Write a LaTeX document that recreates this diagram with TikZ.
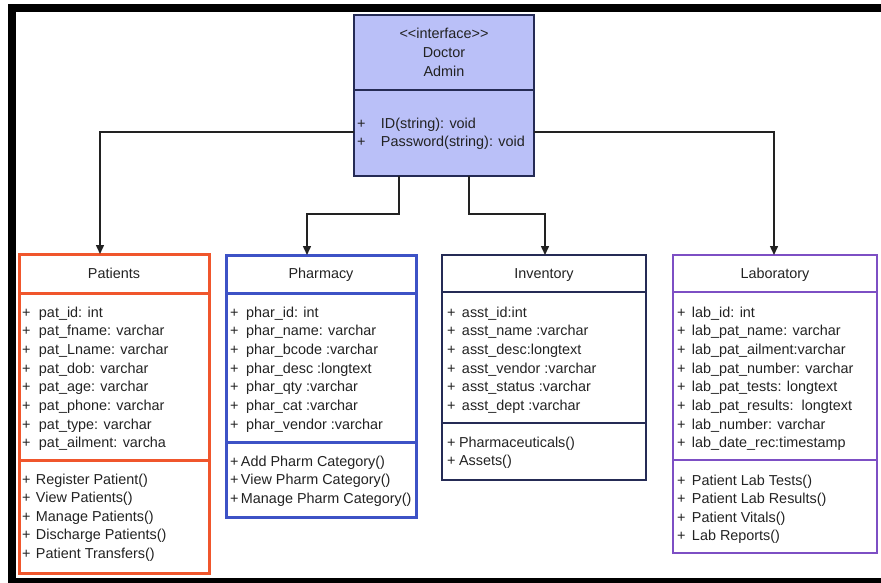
\documentclass[tikz,border=0pt]{standalone}
\usepackage{fontspec}
\setmainfont{Liberation Sans}
\usetikzlibrary{arrows.meta}

\definecolor{patred}{HTML}{F0562C}
\definecolor{pharblue}{HTML}{3D52C6}
\definecolor{invnavy}{HTML}{252B55}
\definecolor{labpurple}{HTML}{7D4FC4}
\definecolor{ifill}{HTML}{BAC0F8}
\definecolor{inkgray}{HTML}{222222}

% "+" marker followed by a fixed gap before the member name
\newcommand\memb[2]{\makebox[#1][l]{+}#2}

\begin{document}
\begin{tikzpicture}[x=1pt,y=-1pt,
  classbox/.style={draw, rectangle, inner sep=0pt, outer sep=0pt, anchor=north west},
  rowtxt/.style={anchor=base west, inner sep=0pt, outer sep=0pt,
                 font=\fontsize{14.4}{17}\selectfont, text=inkgray},
  headtxt/.style={rowtxt, anchor=base},
  link/.style={draw=inkgray, line width=1.5pt,
               -{Triangle[length=9pt,width=8pt]}}]

\useasboundingbox (0,0) rectangle (881,583);

% outer black frame
\fill[black] (8,4) rectangle (881,12);
\fill[black] (8,4) rectangle (16,583);
\fill[black] (8,578) rectangle (881,583);

% ---------- interface: Doctor / Admin ----------
\node[classbox, draw=invnavy, fill=ifill, line width=2pt,
      minimum width=180pt, minimum height=161pt] (admin) at (354,15) {};
\draw[invnavy, line width=2pt] (admin.west |- 0,90) -- (admin.east |- 0,90);
\node[headtxt] (ah1) at (444,39) {<\kern0pt<interface>\kern0pt>};
\node[headtxt] (ah2) at (444,58) {Doctor};
\node[headtxt] (ah3) at (444,77) {Admin};
\node[rowtxt] (am1) at (357,129) {\memb{24pt}{ID(string): void}};
\node[rowtxt] (am2) at (357,147) {\memb{24pt}{Password(string): void}};

% ---------- Patients ----------
\node[classbox, draw=patred, line width=3pt,
      minimum width=190pt, minimum height=319pt] (pat) at (19,254) {};
\draw[patred, line width=3pt] (pat.west |- 0,293) -- (pat.east |- 0,293);
\draw[patred, line width=3pt] (pat.west |- 0,460) -- (pat.east |- 0,460);
\node[headtxt] (path) at (114,278) {Patients};
\foreach \t [count=\i] in {pat\_id: int, pat\_fname: varchar, pat\_Lname: varchar,
    pat\_dob: varchar, pat\_age: varchar, pat\_phone: varchar,
    pat\_type: varchar, pat\_ailment: varcha}
  \node[rowtxt] (pa\i) at (22,{317+18.7*(\i-1)}) {\memb{17pt}{\t}};
\foreach \t [count=\i] in {Register Patient(), View Patients(), Manage Patients(),
    Discharge Patients(), Patient Transfers()}
  \node[rowtxt] (pm\i) at (22,{484+18.6*(\i-1)}) {\memb{14pt}{\t}};

% ---------- Pharmacy ----------
\node[classbox, draw=pharblue, line width=3pt,
      minimum width=190pt, minimum height=262pt] (phar) at (226,255) {};
\draw[pharblue, line width=3pt] (phar.west |- 0,293) -- (phar.east |- 0,293);
\draw[pharblue, line width=3pt] (phar.west |- 0,442) -- (phar.east |- 0,442);
\node[headtxt] (phh) at (321,278) {Pharmacy};
\foreach \t [count=\i] in {phar\_id: int, phar\_name: varchar, phar\_bcode :varchar,
    phar\_desc :longtext, phar\_qty :varchar, phar\_cat :varchar, phar\_vendor :varchar}
  \node[rowtxt] (pha\i) at (230,{317+18.7*(\i-1)}) {\memb{16pt}{\t}};
\foreach \t [count=\i] in {Add Pharm Category(), View Pharm Category(),
    Manage Pharm Category()}
  \node[rowtxt] (phm\i) at (230,{466+18.6*(\i-1)}) {\memb{11pt}{\t}};

% ---------- Inventory ----------
\node[classbox, draw=invnavy, line width=2pt,
      minimum width=204pt, minimum height=225pt] (inv) at (442,255) {};
\draw[invnavy, line width=2pt] (inv.west |- 0,292) -- (inv.east |- 0,292);
\draw[invnavy, line width=2pt] (inv.west |- 0,423) -- (inv.east |- 0,423);
\node[headtxt] (invh) at (544,278) {Inventory};
\foreach \t [count=\i] in {asst\_id:int, asst\_name :varchar, asst\_desc:longtext,
    asst\_vendor :varchar, asst\_status :varchar, asst\_dept :varchar}
  \node[rowtxt] (ia\i) at (447,{317+18.7*(\i-1)}) {\memb{15pt}{\t}};
\foreach \t [count=\i] in {Pharmaceuticals(), Assets()}
  \node[rowtxt] (im\i) at (447,{447+18.6*(\i-1)}) {\memb{12pt}{\t}};

% ---------- Laboratory ----------
\node[classbox, draw=labpurple, line width=2pt,
      minimum width=204pt, minimum height=298pt] (lab) at (673,255) {};
\draw[labpurple, line width=2pt] (lab.west |- 0,292) -- (lab.east |- 0,292);
\draw[labpurple, line width=2pt] (lab.west |- 0,460) -- (lab.east |- 0,460);
\node[headtxt] (labh) at (775,278) {Laboratory};
\foreach \t [count=\i] in {lab\_id: int, lab\_pat\_name: varchar,
    lab\_pat\_ailment:varchar, lab\_pat\_number: varchar, lab\_pat\_tests: longtext,
    lab\_pat\_results:\ \ longtext, lab\_number: varchar, lab\_date\_rec:timestamp}
  \node[rowtxt] (la\i) at (677,{317+18.7*(\i-1)}) {\memb{15pt}{\t}};
\foreach \t [count=\i] in {Patient Lab Tests(), Patient Lab Results(),
    Patient Vitals(), Lab Reports()}
  \node[rowtxt] (lm\i) at (677,{485+18.6*(\i-1)}) {\memb{15pt}{\t}};

% ---------- connectors ----------
\draw[link] (admin.west |- 0,132) -| (pat.north -| 100,0);
\draw[link] (admin.south -| 399,0) -- ++(0,38) -| (phar.north -| 307,0);
\draw[link] (admin.south -| 469,0) -- ++(0,38) -| (inv.north -| 545,0);
\draw[link] (admin.east |- 0,132) -| (lab.north -| 774,0);

\end{tikzpicture}
\end{document}
